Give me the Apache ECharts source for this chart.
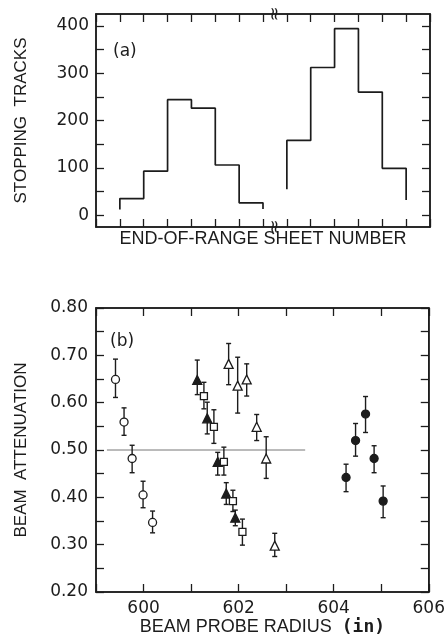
<!DOCTYPE html>
<html>
<head>
<meta charset="utf-8">
<script src="https://cdn.jsdelivr.net/npm/echarts@6/dist/echarts.min.js"></script>
<style>
html,body{margin:0;padding:0;background:#fff;}
#c{width:448px;height:641px;}
</style>
</head>
<body>
<div id="c"></div>
<script>
// ---------- Panel (a): stopping tracks histogram ----------
const histLeftStart = 1;
const histLeftCounts = [35, 93, 244, 226, 106, 26];
const histLeftFeet = [12, 13];
const histRightStart = 8;
const histRightCounts = [158, 312, 394, 260, 99];
const histRightFeet = [55, 32];
const topYTicks = [0, 50, 100, 150, 200, 250, 300, 350, 400];
const topYLabels = [0, 100, 200, 300, 400];

// ---------- Panel (b): beam attenuation ----------
const openCircleX = [599.41, 599.59, 599.76, 599.99, 600.19];
const openCircleY = [0.649, 0.559, 0.482, 0.405, 0.347];
const openCircleLo = [0.611, 0.531, 0.452, 0.378, 0.325];
const openCircleHi = [0.692, 0.589, 0.510, 0.434, 0.371];

const filledTriX = [601.13, 601.34, 601.56, 601.74, 601.93];
const filledTriY = [0.648, 0.567, 0.475, 0.408, 0.357];
const filledTriLo = [0.617, 0.534, 0.447, 0.385, 0.340];
const filledTriHi = [0.690, 0.601, 0.495, 0.431, 0.373];

const openSqX = [601.27, 601.48, 601.69, 601.88, 602.08];
const openSqY = [0.614, 0.549, 0.475, 0.392, 0.327];
const openSqLo = [0.587, 0.514, 0.447, 0.370, 0.299];
const openSqHi = [0.643, 0.585, 0.506, 0.415, 0.354];

const openTriX = [601.79, 601.98, 602.17, 602.38, 602.58, 602.76];
const openTriY = [0.682, 0.636, 0.649, 0.549, 0.482, 0.298];
const openTriLo = [0.638, 0.578, 0.614, 0.520, 0.440, 0.275];
const openTriHi = [0.725, 0.696, 0.682, 0.575, 0.528, 0.324];

const filledCircleX = [604.26, 604.46, 604.67, 604.85, 605.04];
const filledCircleY = [0.442, 0.520, 0.576, 0.482, 0.392];
const filledCircleLo = [0.412, 0.487, 0.537, 0.452, 0.357];
const filledCircleHi = [0.470, 0.556, 0.613, 0.509, 0.424];

const refLineX = [599.23, 603.4];
const refLineY = 0.5;
const botXLabels = [600, 602, 604, 606];
const botYLabels = [0.2, 0.3, 0.4, 0.5, 0.6, 0.7, 0.8];

// ---------- helpers ----------
function stepPoints(start, counts, feet) {
  const pts = [[start, feet[0]]];
  counts.forEach((c, i) => { pts.push([start + i, c]); pts.push([start + i + 1, c]); });
  pts.push([start + counts.length, feet[1]]);
  return pts;
}
function zip(x, y) { return x.map((v, i) => [v, y[i]]); }
function zipErr(x, lo, hi) { return x.map((v, i) => [v, lo[i], hi[i]]); }

const INK = '#1c1c1c';
const numFont = { fontFamily: 'DejaVu Sans', fontSize: 17, color: INK };
const nameFont = { fontFamily: 'Liberation Sans', fontSize: 18, color: INK };

function errorSeries(data) {
  return {
    type: 'custom', xAxisIndex: 2, yAxisIndex: 2, z: 2,
    data: data,
    renderItem: function (params, api) {
      const x = api.value(0);
      const hi = api.coord([x, api.value(2)]);
      const lo = api.coord([x, api.value(1)]);
      const w = 2.5;
      const st = { stroke: INK, lineWidth: 1.4 };
      return { type: 'group', children: [
        { type: 'line', shape: { x1: hi[0], y1: hi[1], x2: lo[0], y2: lo[1] }, style: st },
        { type: 'line', shape: { x1: hi[0] - w, y1: hi[1], x2: hi[0] + w, y2: hi[1] }, style: st },
        { type: 'line', shape: { x1: lo[0] - w, y1: lo[1], x2: lo[0] + w, y2: lo[1] }, style: st }
      ]};
    }
  };
}
function markerSeries(data, symbol, filled, size) {
  return {
    type: 'scatter', xAxisIndex: 2, yAxisIndex: 2, z: 5,
    symbol: symbol, symbolSize: size, data: data,
    itemStyle: { color: filled ? INK : '#fff', borderColor: INK, borderWidth: 1.3, opacity: 1 },
    emphasis: { disabled: true }
  };
}

const axisLineStyle = { show: true, onZero: false, lineStyle: { color: INK, width: 1.5 } };
const tickStyle = { show: true, inside: true, length: 8, lineStyle: { color: INK, width: 1.3 } };

const chart = echarts.init(document.getElementById('c'), null, { renderer: 'canvas' });
const option = {
  animation: false,
  backgroundColor: '#fff',
  grid: [
    { left: 96, right: 18, top: 14, height: 213, show: true, borderColor: INK, borderWidth: 1.5, backgroundColor: 'transparent' },
    { left: 96, right: 18, top: 308, height: 284, show: true, borderColor: INK, borderWidth: 1.5, backgroundColor: 'transparent' }
  ],
  xAxis: [
    { type: 'value', gridIndex: 0, position: 'bottom', min: 0, max: 14, interval: 1,
      axisLine: axisLineStyle, axisTick: tickStyle, axisLabel: { show: false }, splitLine: { show: false },
      name: 'END-OF-RANGE SHEET NUMBER', nameLocation: 'middle', nameGap: 3,
      nameTextStyle: nameFont },
    { type: 'value', gridIndex: 0, position: 'top', min: 0, max: 14, interval: 1,
      axisLine: axisLineStyle, axisTick: tickStyle, axisLabel: { show: false }, splitLine: { show: false } },
    { type: 'value', gridIndex: 1, position: 'bottom', min: 599, max: 606, interval: 1,
      axisLine: axisLineStyle, axisTick: tickStyle,
      axisLabel: Object.assign({ customValues: botXLabels, margin: 8 }, numFont),
      splitLine: { show: false },
      name: 'BEAM PROBE RADIUS  {b|(in)}', nameLocation: 'middle', nameGap: 17,
      nameTextStyle: Object.assign({}, nameFont, { rich: { b: { fontFamily: 'DejaVu Sans Mono', fontWeight: 'bold', fontSize: 18, color: INK } } }) },
    { type: 'value', gridIndex: 1, position: 'top', min: 599, max: 606, interval: 1,
      axisLine: axisLineStyle, axisTick: tickStyle, axisLabel: { show: false }, splitLine: { show: false } }
  ],
  yAxis: [
    { type: 'value', gridIndex: 0, position: 'left', min: -25, max: 425,
      axisLine: axisLineStyle,
      axisTick: Object.assign({ customValues: topYTicks }, tickStyle),
      axisLabel: Object.assign({ customValues: topYLabels, margin: 7 }, numFont),
      splitLine: { show: false },
      name: 'STOPPING  TRACKS', nameLocation: 'middle', nameGap: 66, nameTextStyle: Object.assign({}, nameFont, { fontSize: 17 }) },
    { type: 'value', gridIndex: 0, position: 'right', min: -25, max: 425,
      axisLine: axisLineStyle,
      axisTick: Object.assign({ customValues: topYTicks }, tickStyle),
      axisLabel: { show: false }, splitLine: { show: false } },
    { type: 'value', gridIndex: 1, position: 'left', min: 0.2, max: 0.8, interval: 0.05,
      axisLine: axisLineStyle, axisTick: tickStyle,
      axisLabel: Object.assign({ customValues: botYLabels, margin: 8,
        formatter: v => Number(v).toFixed(2) }, numFont),
      splitLine: { show: false },
      name: 'BEAM  ATTENUATION', nameLocation: 'middle', nameGap: 66, nameTextStyle: Object.assign({}, nameFont, { fontSize: 17 }) },
    { type: 'value', gridIndex: 1, position: 'right', min: 0.2, max: 0.8, interval: 0.05,
      axisLine: axisLineStyle, axisTick: tickStyle, axisLabel: { show: false }, splitLine: { show: false } }
  ],
  series: [
    { type: 'line', xAxisIndex: 1, yAxisIndex: 1, data: [], symbol: 'none' },
    { type: 'line', xAxisIndex: 3, yAxisIndex: 3, data: [], symbol: 'none' },
    { type: 'line', xAxisIndex: 0, yAxisIndex: 0, data: stepPoints(histLeftStart, histLeftCounts, histLeftFeet),
      showSymbol: false, symbol: 'none', lineStyle: { color: INK, width: 1.7 }, z: 3 },
    { type: 'line', xAxisIndex: 0, yAxisIndex: 0, data: stepPoints(histRightStart, histRightCounts, histRightFeet),
      showSymbol: false, symbol: 'none', lineStyle: { color: INK, width: 1.7 }, z: 3 },
    { type: 'line', xAxisIndex: 2, yAxisIndex: 2, data: refLineX.map(x => [x, refLineY]),
      showSymbol: false, symbol: 'none', lineStyle: { color: '#777', width: 1 }, z: 1 },
    errorSeries(zipErr(openCircleX, openCircleLo, openCircleHi)),
    errorSeries(zipErr(filledTriX, filledTriLo, filledTriHi)),
    errorSeries(zipErr(openSqX, openSqLo, openSqHi)),
    errorSeries(zipErr(openTriX, openTriLo, openTriHi)),
    errorSeries(zipErr(filledCircleX, filledCircleLo, filledCircleHi)),
    markerSeries(zip(openCircleX, openCircleY), 'circle', false, 8),
    markerSeries(zip(filledTriX, filledTriY), 'triangle', true, 9),
    markerSeries(zip(openSqX, openSqY), 'rect', false, 7),
    markerSeries(zip(openTriX, openTriY), 'triangle', false, 9),
    markerSeries(zip(filledCircleX, filledCircleY), 'circle', true, 8)
  ]
};
chart.setOption(option);

// Annotations: panel letters and axis-break marks
const brkTop = chart.convertToPixel({ xAxisIndex: 0, yAxisIndex: 0 }, [7.5, 425]);
const brkBot = chart.convertToPixel({ xAxisIndex: 0, yAxisIndex: 0 }, [7.5, -25]);
function brk(p) {
  return { type: 'text', x: p[0], y: p[1], rotation: Math.PI / 2, z: 10,
    style: { text: '≈', fontFamily: 'DejaVu Sans', fontSize: 18, fill: INK, align: 'center', verticalAlign: 'middle' } };
}
chart.setOption({
  graphic: [
    { type: 'text', x: 113, y: 52, z: 10, style: { text: '(a)', fontFamily: 'DejaVu Sans', fontSize: 17, fill: INK, verticalAlign: 'middle' } },
    { type: 'text', x: 110, y: 342, z: 10, style: { text: '(b)', fontFamily: 'DejaVu Sans', fontSize: 17, fill: INK, verticalAlign: 'middle' } },
    brk(brkTop), brk(brkBot)
  ]
});
</script>
</body>
</html>
